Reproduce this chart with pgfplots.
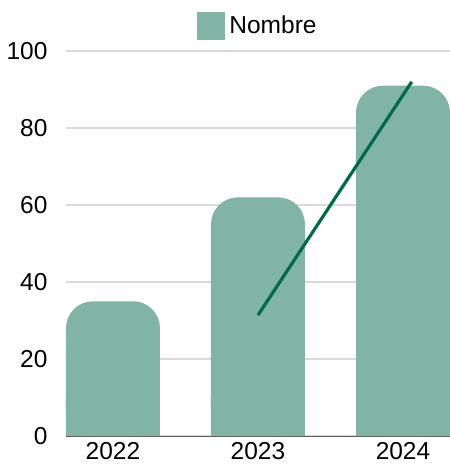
\documentclass[border=0pt]{standalone}
\usepackage{pgfplots}
\pgfplotsset{compat=1.18}
\usepackage{fontspec}
\setmainfont{Liberation Sans}
\definecolor{barcol}{HTML}{82B4A6}
\definecolor{linecol}{HTML}{006B4A}
\definecolor{gridcol}{HTML}{D9D9D9}
\begin{document}
\begin{tikzpicture}
\begin{axis}[
  at={(0,0)}, anchor=south west,
  scale only axis, width=384pt, height=385pt,
  xmin=-0.3241, xmax=2.3241, ymin=0, ymax=100,
  xtick={0,1,2}, xticklabels={2022,2023,2024},
  ytick={0,20,40,60,80,100},
  /pgf/number format/assume math mode=true,
  ticklabel style={font=\fontsize{24.5}{24.5}\selectfont, text=black},
  xticklabel style={yshift=-5pt, inner sep=1pt},
  yticklabel style={xshift=-15pt},
  tick style={draw=none},
  ymajorgrids, grid style={draw=gridcol, line width=1.3pt},
  axis x line*=bottom, axis y line*=left,
  x axis line style={draw=gray!70!black, line width=0.8pt},
  y axis line style={draw=none},
  clip=false,
  legend style={at={(0.5,1)}, anchor=south, yshift=9pt, draw=none, fill=none,
    font=\fontsize{24.5}{24.5}\selectfont, legend columns=1,
    /tikz/every even column/.append style={column sep=0pt}},
  legend cell align=left,
]
\addplot[ybar, bar width=94pt, fill=barcol, draw=none, rounded corners=27pt,
  legend image code/.code={\fill[barcol, sharp corners] (0pt,-14pt) rectangle (28pt,14pt);}]
  coordinates {(0,35) (1,62) (2,91)};
\addlegendentry{\hspace{2pt}Nombre}
\addplot[ybar, bar width=94pt, fill=barcol, draw=none, forget plot]
  coordinates {(0,10) (1,10) (2,10)};
\addplot[linecol, line width=3.2pt, forget plot] coordinates {(1,31.4) (2.06,92)};
\end{axis}
\pgfresetboundingbox
\path (-66pt,-31pt) rectangle (384pt,436pt);
\end{tikzpicture}
\end{document}
